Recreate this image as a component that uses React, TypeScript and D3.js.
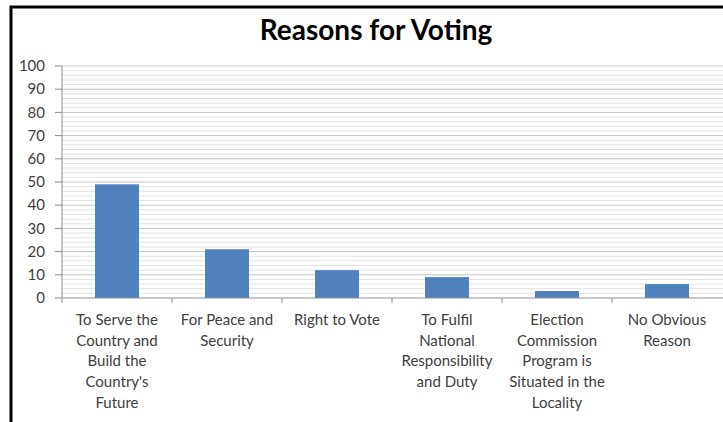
import React from "react";
import * as d3 from "d3";

const categories = [
  "To Serve the Country and Build the Country's Future",
  "For Peace and Security",
  "Right to Vote",
  "To Fulfil National Responsibility and Duty",
  "Election Commission Program is Situated in the Locality",
  "No Obvious Reason",
];
const labelLines = [
  ["To Serve the", "Country and", "Build the", "Country's", "Future"],
  ["For Peace and", "Security"],
  ["Right to Vote"],
  ["To Fulfil", "National", "Responsibility", "and Duty"],
  ["Election", "Commission", "Program is", "Situated in the", "Locality"],
  ["No Obvious", "Reason"],
];
const values = [49, 21, 12, 9, 3, 6];
const yTicks = [0, 10, 20, 30, 40, 50, 60, 70, 80, 90, 100];
const minorTicks = d3.range(0, 101, 2);

export default function App() {
  const W = 723, H = 422;
  const left = 62, right = 722, top = 66, bottom = 298;
  const x = d3.scaleBand<string>().domain(categories).range([left, right]).paddingInner(0.6).paddingOuter(0.3);
  const y = d3.scaleLinear().domain([0, 100]).range([bottom, top]);
  const font = "Lato, 'Open Sans', sans-serif";
  const step = x.step();
  return (
    <svg width={W} height={H} style={{ position: "absolute", left: 0, top: 0, background: "#fff" }}>
      <rect x={11} y={7} width={900} height={600} fill="none" stroke="#000" strokeWidth={3} />
      <text x={376} y={40} textAnchor="middle" fontFamily={font} fontWeight="bold" fontSize={28} fill="#000">
        Reasons for Voting
      </text>
      {minorTicks.filter((t) => t % 10 !== 0).map((t) => (
        <line key={"m" + t} x1={left} x2={W} y1={y(t)} y2={y(t)} stroke="#e2e2e2" strokeWidth={1} />
      ))}
      {yTicks.filter((t) => t !== 0).map((t) => (
        <line key={"g" + t} x1={left} x2={W} y1={y(t)} y2={y(t)} stroke="#c4c4c4" strokeWidth={1} />
      ))}
      {values.map((v, i) => (
        <rect key={i} x={x(categories[i])!} y={y(v)} width={x.bandwidth()} height={y(0) - y(v)} fill="#4F81BD" />
      ))}
      <line x1={left} x2={left} y1={top} y2={bottom} stroke="#8c8c8c" />
      <line x1={left} x2={W} y1={bottom} y2={bottom} stroke="#8c8c8c" />
      {yTicks.map((t) => (
        <g key={"y" + t}>
          <line x1={left - 7} x2={left} y1={y(t)} y2={y(t)} stroke="#8c8c8c" />
          <text x={45} y={y(t)} dy="0.35em" textAnchor="end" fontFamily={font} fontSize={15} fill="#404040">
            {t}
          </text>
        </g>
      ))}
      {categories.map((c, i) => (
        <line key={"t" + i} x1={left + i * step} x2={left + i * step} y1={bottom} y2={bottom + 5} stroke="#8c8c8c" />
      ))}
      {categories.map((c, i) => (
        <text key={"l" + i} textAnchor="middle" fontFamily={font} fontSize={15} fill="#404040">
          {labelLines[i].map((ln, j) => (
            <tspan key={j} x={x(c)! + x.bandwidth() / 2} y={325 + j * 20.7}>
              {ln}
            </tspan>
          ))}
        </text>
      ))}
    </svg>
  );
}
